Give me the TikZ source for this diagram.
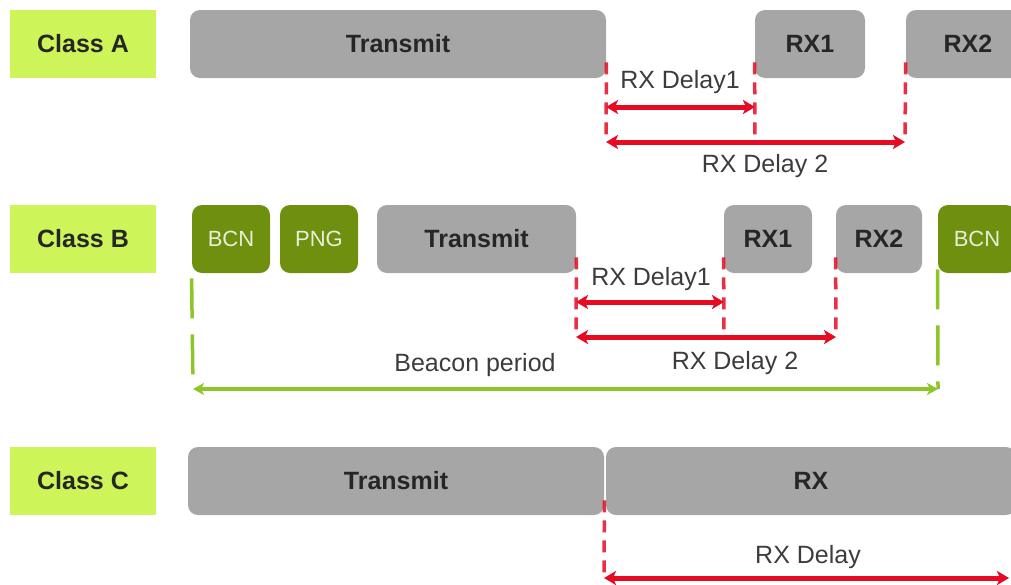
\documentclass[tikz,border=0pt]{standalone}
\usepackage{fontspec}
\setmainfont{Liberation Sans}
\usetikzlibrary{arrows.meta}
\definecolor{classlime}{RGB}{205,245,90}
\definecolor{slotgray}{RGB}{166,166,166}
\definecolor{bcngreen}{RGB}{110,144,14}
\definecolor{delayred}{RGB}{230,10,35}
\definecolor{periodgreen}{RGB}{140,198,40}
\definecolor{labeltext}{RGB}{60,60,60}
\begin{document}
\begin{tikzpicture}[x=0.5pt,y=-0.5pt,
  classbox/.style={fill=classlime,minimum width=73pt,minimum height=34pt,inner sep=0pt,font=\fontsize{12.5}{14}\selectfont\bfseries,text=black!85},
  slot/.style={fill=slotgray,rounded corners=5pt,minimum height=34pt,inner sep=0pt,font=\fontsize{12.5}{14}\selectfont\bfseries,text=black!85},
  beacon/.style={fill=bcngreen,rounded corners=5pt,minimum width=39pt,minimum height=34pt,inner sep=0pt,font=\fontsize{11}{13}\selectfont,text=white!85!bcngreen},
  reddash/.style={draw=delayred,draw opacity=0.85,line width=1.75pt,dash pattern=on 6pt off 4pt},
  greendash/.style={draw=periodgreen,line width=1.75pt,dash pattern=on 20pt off 8pt},
  delayarrow/.style={draw=delayred,line width=2.5pt,{Stealth[length=6pt,width=7pt,inset=1.5pt]}-{Stealth[length=6pt,width=7pt,inset=1.5pt]}},
  periodarrow/.style={draw=periodgreen,line width=2pt,{Stealth[length=5.5pt,width=6pt,inset=1.5pt]}-{Stealth[length=5.5pt,width=6pt,inset=1.5pt]}},
  delaytext/.style={text=labeltext,inner sep=0pt,font=\fontsize{12.5}{14}\selectfont}]
\clip (0,0) rectangle (1011,584);
% Class A
\node[classbox] (clsA) at (83,44) {Class A};
\node[slot,minimum width=208pt] (txA) at (398,44) {Transmit};
\node[slot,minimum width=55pt] (rxoneA) at (810,44) {RX1};
\node[slot,minimum width=62pt] (rxtwoA) at (968,44) {RX2};
\coordinate (dA0) at (606,142);
\coordinate (dA1) at (755,142);
\coordinate (dA2) at (905,142);
\coordinate (oneA0) at (606,107);
\coordinate (oneA1) at (755,107);
\draw[reddash] ([yshift=8pt]txA.south east) -- (dA0);
\draw[reddash] ([yshift=8pt]rxoneA.south west) -- (dA1);
\draw[reddash] ([yshift=8pt]rxtwoA.south west) -- (dA2);
\draw[delayarrow] (oneA0) -- (oneA1);
\draw[delayarrow] (dA0) -- (dA2);
\node[delaytext] (lblAone) at (680,82) {RX Delay1};
\node[delaytext] (lblAtwo) at (765,166) {RX Delay 2};
% Class B
\node[classbox] (clsB) at (83,239) {Class B};
\node[beacon] (bcnB) at (231,239) {BCN};
\node[beacon] (pngB) at (319,239) {PNG};
\node[slot,minimum width=99.5pt] (txB) at (476.5,239) {Transmit};
\node[slot,minimum width=44pt] (rxoneB) at (768,239) {RX1};
\node[slot,minimum width=43pt] (rxtwoB) at (879,239) {RX2};
\node[beacon] (bcnnextB) at (977,239) {BCN};
\coordinate (dB0) at (576,337);
\coordinate (dB1) at (724,337);
\coordinate (dB2) at (836,337);
\coordinate (oneB0) at (576,302);
\coordinate (oneB1) at (724,302);
\draw[reddash] ([yshift=8pt]txB.south east) -- (dB0);
\draw[reddash] ([yshift=8pt]rxoneB.south west) -- (dB1);
\draw[reddash] ([yshift=8pt]rxtwoB.south west) -- (dB2);
\draw[delayarrow] (oneB0) -- (oneB1);
\draw[delayarrow] (dB0) -- (dB2);
\node[delaytext] (lblBone) at (651,279) {RX Delay1};
\node[delaytext] (lblBtwo) at (735,363) {RX Delay 2};
\coordinate (pB0) at (193,389);
\coordinate (pB1) at (938,389);
\draw[greendash] ([yshift=-2.5pt]bcnB.south west) -- (pB0);
\draw[greendash] ([yshift=2pt]bcnnextB.south west) -- (pB1);
\draw[periodarrow] (pB0) -- (pB1);
\node[delaytext] (lblBP) at (475,365) {Beacon period};
% Class C
\node[classbox] (clsC) at (83,481) {Class C};
\node[slot,minimum width=208pt] (txC) at (396,481) {Transmit};
\node[slot,minimum width=205pt] (rxC) at (811,481) {RX};
\coordinate (dC0) at (604,578);
\coordinate (dC1) at (1009,578);
\draw[reddash] ([yshift=7.5pt]txC.south east) -- (dC0);
\draw[delayarrow] (dC0) -- (dC1);
\node[delaytext] (lblC) at (808,557) {RX Delay};
\end{tikzpicture}
\end{document}
